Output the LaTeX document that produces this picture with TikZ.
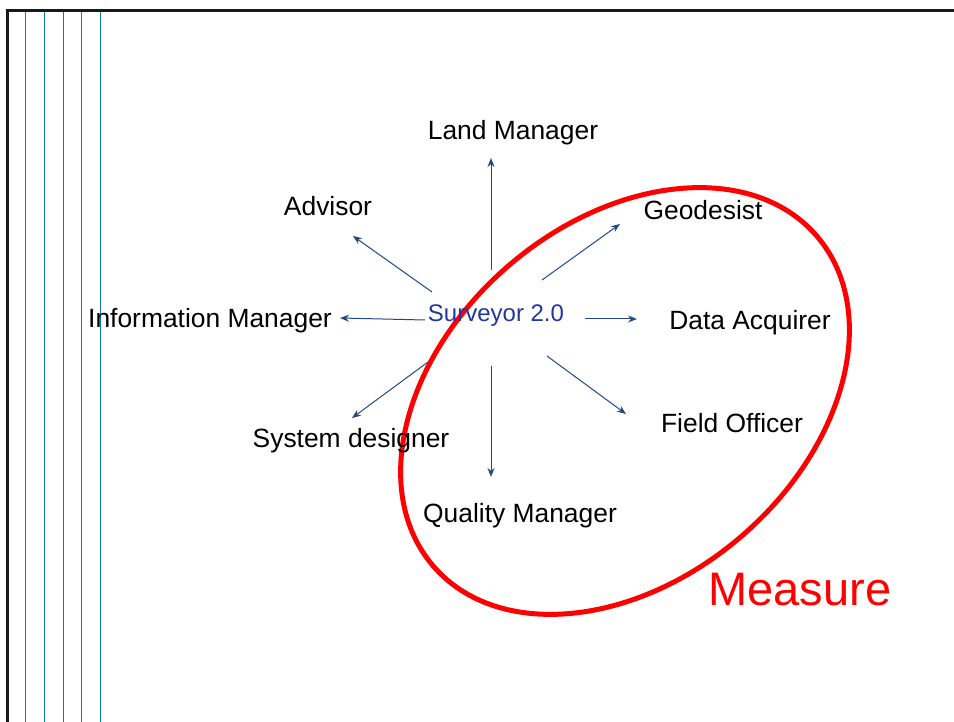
\documentclass[tikz,border=0pt]{standalone}
\usepackage{fontspec}
\setmainfont{Liberation Sans}
\usetikzlibrary{arrows.meta}
\definecolor{arrowblue}{HTML}{1F4A85}
\definecolor{textblue}{HTML}{2236A0}
\definecolor{rulecol}{HTML}{0A7FA6}
\tikzset{
  role/.style={anchor=base, inner sep=0pt, font=\fontsize{26.4}{30}\selectfont, text=black},
  conn/.style={draw=arrowblue, line width=1pt, -{Stealth[length=9pt,width=7pt]}},
  vrule/.style={draw=rulecol, line width=1.3pt},
  frame/.style={draw=black!90, line width=3pt}
}
\begin{document}
\begin{tikzpicture}[x=1pt,y=-1pt]
\useasboundingbox (0,0) rectangle (954,722);
% frame and rules
\coordinate (tl) at (7.5,10.5);
\coordinate (tr) at (954,10.5);
\coordinate (bl) at (7.5,722);
\draw[frame] (tr) -- (tl) -- (bl);
\foreach \x in {25.5,44.5,63.5,81.5,100.5}{
  \draw[vrule] (\x,12) -- (\x,722);
}
% ellipse
\draw[red, line width=5pt, rotate around={40.7:(625,401)}] (625,401) ellipse [x radius=253, y radius=178.5];
% nodes
\node[anchor=base, inner sep=0pt, font=\fontsize{24}{28}\selectfont, text=textblue] (sv) at (496,322) {Surveyor 2.0};
\node[role] (lm) at (513,140) {Land Manager};
\node[role] (ad) at (328,216) {Advisor};
\node[role] (ge) at (703,220) {Geodesist};
\node[role] (im) at (210,327) {Information Manager};
\node[role] (da) at (750,330) {Data Acquirer};
\node[role] (sd) at (351,447) {System designer};
\node[role] (fo) at (732,432) {Field Officer};
\node[role] (qm) at (520,522) {Quality Manager};
\node[anchor=base, inner sep=0pt, font=\fontsize{47}{52}\selectfont, text=red] (ms) at (800,605) {Measure};
% connector end points
\coordinate (s1) at (491,270); \coordinate (e1) at (491,158);
\coordinate (s2) at (432,292); \coordinate (e2) at (353,236);
\coordinate (s3) at (425,320); \coordinate (e3) at (340,318);
\coordinate (s4) at (428,362); \coordinate (e4) at (352,418);
\coordinate (s5) at (491,366); \coordinate (e5) at (491,477);
\coordinate (s6) at (547,356); \coordinate (e6) at (626,414);
\coordinate (s7) at (585,319); \coordinate (e7) at (637,319);
\coordinate (s8) at (542,280); \coordinate (e8) at (620,224);
\foreach \i in {1,...,8}{\draw[conn] (s\i) -- (e\i);}
\end{tikzpicture}
\end{document}
